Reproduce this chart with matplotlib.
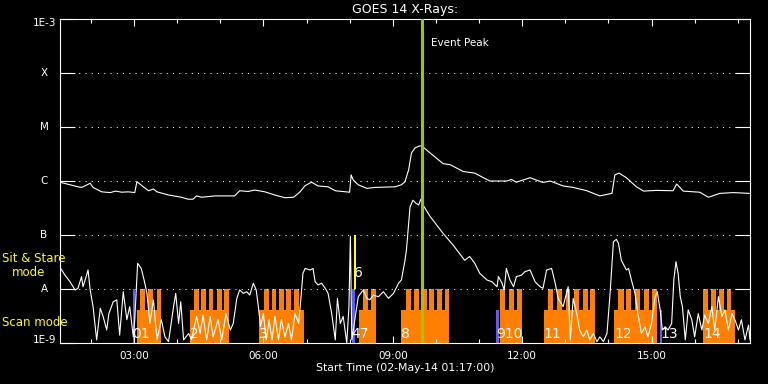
import matplotlib
matplotlib.use('Agg')
import matplotlib.pyplot as plt
import matplotlib.transforms as mtransforms

# time axis: minutes after 02-May-14 01:17:00
start_hour = 1 + 17 / 60
span_min = 960

# GOES 14 long channel (1-8 A), W/m^2
long_min = [0, 25, 30, 37, 42, 46, 58, 70, 77, 86, 95, 104, 107, 116, 123, 130, 135, 151, 169, 178,
            185, 190, 197, 216, 243, 250, 262, 271, 285, 299, 313, 325, 334, 341, 350, 359, 373, 383, 403, 405,
            408, 415, 427, 438, 466, 475, 480, 485, 489, 494, 499, 503, 515, 533, 543, 561, 577, 598, 622, 628,
            635, 654, 672, 682, 700, 714, 733, 751, 768, 772, 778, 788, 802, 812, 830, 853, 858, 867, 890, 902,
            918, 937, 959]
long_flux = [9.5e-7, 7.8e-7, 7.6e-7, 8.4e-7, 9.1e-7, 7.6e-7, 6.3e-7, 6.1e-7, 6.5e-7, 6.2e-7,
             6.3e-7, 6.1e-7, 9.7e-7, 7.8e-7, 6.6e-7, 7.1e-7, 6.3e-7, 5.5e-7, 5.0e-7, 4.6e-7,
             4.6e-7, 5.3e-7, 5.0e-7, 5.3e-7, 5.3e-7, 6.6e-7, 6.4e-7, 6.8e-7, 6.3e-7, 5.5e-7,
             4.9e-7, 5.0e-7, 6.3e-7, 8.2e-7, 9.5e-7, 8.1e-7, 7.8e-7, 6.6e-7, 6.2e-7, 1.3e-6,
             1.04e-6, 8.5e-7, 7.3e-7, 7.6e-7, 7.8e-7, 8.5e-7, 9.7e-7, 1.6e-6, 3.3e-6, 4.1e-6,
             4.4e-6, 4.5e-6, 3.3e-6, 2.1e-6, 2.0e-6, 1.5e-6, 1.4e-6, 1.0e-6, 1.0e-6, 1.07e-6,
             9.5e-7, 1.15e-6, 9.4e-7, 1.0e-6, 8.1e-7, 7.6e-7, 6.6e-7, 5.3e-7, 5.9e-7, 1.3e-6,
             1.4e-6, 1.15e-6, 7.8e-7, 6.5e-7, 6.7e-7, 6.6e-7, 8.8e-7, 6.5e-7, 6.2e-7, 5.0e-7,
             5.9e-7, 6.1e-7, 5.9e-7]

# GOES 14 short channel (0.5-4 A), W/m^2
short_min = [1, 7, 14, 21, 25, 30, 32, 37, 39, 42, 46, 51, 56, 60, 65, 68, 74, 79, 83, 88,
             93, 97, 102, 104, 108, 113, 117, 121, 125, 130, 135, 141, 146, 151, 158, 161, 165, 168, 172, 179,
             183, 190, 195, 199, 204, 209, 213, 220, 225, 231, 237, 241, 246, 250, 255, 260, 264, 269, 273, 276,
             279, 283, 287, 291, 295, 299, 304, 308, 313, 318, 322, 327, 332, 335, 338, 341, 348, 352, 355, 359,
             364, 369, 373, 378, 383, 386, 390, 394, 399, 402, 404, 406, 415, 422, 427, 431, 436, 443, 450, 457,
             464, 471, 475, 480, 482, 487, 491, 495, 499, 502, 505, 515, 533, 547, 563, 570, 577, 584, 594, 601,
             608, 610, 615, 618, 621, 626, 631, 635, 642, 647, 654, 661, 668, 672, 677, 684, 689, 693, 700, 704,
             707, 710, 714, 719, 723, 728, 733, 737, 742, 747, 751, 756, 761, 765, 770, 774, 777, 781, 788, 791,
             795, 800, 804, 809, 814, 818, 823, 828, 831, 835, 838, 842, 846, 851, 854, 857, 860, 863, 866, 870,
             874, 879, 883, 888, 893, 897, 902, 907, 911, 916, 921, 925, 930, 935, 939, 944, 948, 953, 958, 960]
short_flux = [2.4e-8, 1.8e-8, 1.36e-8, 9.6e-9, 1.03e-8, 1.7e-8, 1.1e-8, 1.8e-8, 2.25e-8, 9.6e-9,
              4.7e-9, 1.14e-9, 4.4e-9, 3.1e-9, 1.74e-9, 3.5e-9, 5.8e-9, 6.3e-9, 1.4e-9, 8.9e-9,
              2.7e-9, 4.7e-9, 1.3e-9, 2.7e-9, 3.0e-8, 2.4e-8, 1.47e-8, 8.3e-9, 2.3e-9, 6.3e-9,
              1.14e-9, 2.7e-9, 1.3e-9, 1.06e-9, 4.7e-9, 8.3e-9, 2.3e-9, 5.8e-9, 1.14e-9, 1.5e-9,
              1.14e-9, 3.1e-9, 1.5e-9, 3.3e-9, 1.14e-9, 3.1e-9, 1.3e-9, 2.7e-9, 1.14e-9, 3.5e-9,
              1.74e-9, 2.3e-9, 6.7e-9, 9.6e-9, 8.3e-9, 8.9e-9, 7.7e-9, 1.28e-8, 9.6e-9, 4.7e-9,
              2.0e-9, 3.5e-9, 1.14e-9, 2.7e-9, 1.14e-9, 3.1e-9, 1.14e-9, 2.7e-9, 1.3e-9, 2.3e-9,
              1.14e-9, 3.5e-9, 2.3e-9, 6.3e-9, 1.95e-8, 2.4e-8, 2.25e-8, 2.4e-8, 1.36e-8, 1.19e-8,
              1.28e-8, 1.03e-8, 8.3e-9, 3.5e-9, 1.14e-9, 6.7e-9, 2.3e-9, 3.1e-9, 1.0e-9, 4.7e-9,
              9.5e-8, 1.14e-9, 7.2e-9, 9.6e-9, 6.7e-9, 6.3e-9, 7.7e-9, 7.2e-9, 8.9e-9, 6.7e-9,
              8.3e-9, 1.28e-8, 1.47e-8, 3.4e-8, 5.3e-8, 3.3e-7, 4.4e-7, 3.9e-7, 3.6e-7, 4.6e-7,
              3.6e-7, 2.2e-7, 1.07e-7, 6.5e-8, 3.4e-8, 4.0e-8, 3.0e-8, 1.95e-8, 1.47e-8, 1.36e-8,
              1.1e-8, 1.7e-8, 1.28e-8, 9.6e-9, 2.4e-8, 1.47e-8, 1.1e-8, 1.7e-8, 1.8e-8, 2.1e-8,
              2.25e-8, 1.36e-8, 1.1e-8, 1.03e-8, 2.25e-8, 2.4e-8, 1.28e-8, 6.7e-9, 4.7e-9, 7.7e-9,
              1.1e-8, 1.14e-9, 6.7e-9, 3.5e-9, 1.74e-9, 1.3e-9, 1.74e-9, 1.14e-9, 1.5e-9, 1.06e-9,
              1.3e-9, 1.06e-9, 1.5e-9, 7.2e-9, 7.5e-8, 8.3e-8, 7.0e-8, 3.4e-8, 2.25e-8, 2.4e-8,
              1.47e-8, 8.3e-9, 3.5e-9, 1.5e-9, 2.0e-9, 1.3e-9, 2.3e-9, 7.2e-9, 8.9e-9, 4.1e-9,
              1.74e-9, 2.0e-9, 1.74e-9, 2.3e-9, 1.47e-8, 3.2e-8, 1.95e-8, 7.2e-9, 4.7e-9, 1.14e-9,
              4.1e-9, 2.7e-9, 1.3e-9, 3.5e-9, 1.74e-9, 3.3e-9, 2.3e-9, 4.7e-9, 1.74e-9, 7.2e-9,
              3.1e-9, 4.1e-9, 1.74e-9, 3.5e-9, 2.7e-9, 1.74e-9, 2.7e-9, 1.14e-9, 2.15e-9, 1.14e-9]

# scan mode rasters (minutes): block extent and raster steps
block_start = [107, 181, 277, 416, 475, 612, 673, 771, 895]
block_end = [141, 235, 339, 440, 541, 643, 744, 830, 939]
block_steps = [
    [(111, 118), (123, 129), (135, 141)],
    [(186, 193), (196, 203), (207, 213), (218, 225), (228, 235)],
    [(284, 291), (295, 301), (305, 311), (315, 322), (326, 333)],
    [(422, 428), (433, 440)],
    [(481, 488), (493, 499), (503, 510), (514, 520), (525, 531), (535, 541)],
    [(612, 619), (625, 632), (636, 643)],
    [(679, 686), (692, 698), (704, 710), (715, 722), (727, 734), (737, 744)],
    [(777, 784), (788, 795), (800, 807), (812, 819), (823, 830)],
    [(895, 902), (906, 913), (917, 924), (928, 934)],
]
block_labels = ['1', '2', '3', '7', '8', '10', '11', '12', '14']

# other observations
other_start = [101, 406, 607, 835]
other_end = [105, 411, 611, 838]
other_top = [1e-8, 1e-8, 4.1e-9, 4.1e-9]
other_labels = ['0', '4', '9', '13']

stare_start = [409]
stare_end = [412]
stare_labels = ['6']

event_peak = 503
base_level = 4.1e-9
step_level = 1e-8
stare_level = 1e-7

decades = [1e-9, 1e-8, 1e-7, 1e-6, 1e-5, 1e-4, 1e-3]
decade_labels = ['1E-9', 'A', 'B', 'C', 'M', 'X', '1E-3']
major_hours = [3, 6, 9, 12, 15]

orange = '#ff8000'
blue = '#5c5cff'

fig = plt.figure(figsize=(7.68, 3.84), dpi=100, facecolor='black')
ax = fig.add_axes([60 / 768, 41 / 384, 690 / 768, 324 / 384], facecolor='black')
ax.set_yscale('log')
ax.set_xlim(0, span_min)
ax.set_ylim(1e-9, 1e-3)

# scan blocks
for s, e, steps in zip(block_start, block_end, block_steps):
    ax.bar(s, base_level - 1e-9, width=e - s, bottom=1e-9, align='edge',
           color=orange, linewidth=0, zorder=1)
    for a, b in steps:
        ax.bar(a, step_level - 1e-9, width=b - a, bottom=1e-9, align='edge',
               color=orange, linewidth=0, zorder=1)

for s, e, top in zip(other_start, other_end, other_top):
    ax.bar(s, top - 1e-9, width=e - s, bottom=1e-9, align='edge',
           color=blue, linewidth=0, zorder=1.1)
for s, e in zip(stare_start, stare_end):
    ax.bar(s, stare_level - step_level, width=e - s, bottom=step_level, align='edge',
           color='yellow', linewidth=0, zorder=1.1)

# dotted class levels
for v in decades[1:-1]:
    ax.axhline(v, color='white', lw=0.75, ls=(0, (1, 5)), zorder=1.5)

ax.plot(long_min, long_flux, color='white', lw=0.8, zorder=3)
ax.plot(short_min, short_flux, color='white', lw=0.8, zorder=3)

ax.axvline(event_peak, color='#99cc00', lw=2.2, zorder=4)
ax.annotate('Event Peak', (event_peak, 3.6e-4), xytext=(7, 0), textcoords='offset points',
            color='white', fontsize=7.5, va='center', ha='left')

# observation numbers; numbers of neighbouring observations run together
trans = mtransforms.blended_transform_factory(ax.transData, ax.transAxes)
row = sorted(zip(other_start + block_start, other_labels + block_labels))
groups = []
for s, lab in row:
    if groups and s - groups[-1][1] < 12:
        groups[-1] = (groups[-1][0], s, groups[-1][2] + lab)
    else:
        groups.append((s, s, lab))
for s, _, lab in groups:
    ax.text(s, 0.016, lab, transform=trans, color='white', fontsize=10,
            ha='left', va='baseline', zorder=5)
for s, lab in zip(stare_start, stare_labels):
    ax.text(s, 0.205, lab, transform=trans, color='white', fontsize=10,
            ha='left', va='baseline', zorder=5)

# axes styling
for sp in ax.spines.values():
    sp.set_color('white')
    sp.set_linewidth(0.8)

hour_ticks = [h * 60 - start_hour * 60 for h in range(2, 18) if 0 <= h * 60 - start_hour * 60 <= span_min]
major_ticks = [h * 60 - start_hour * 60 for h in major_hours]
ax.set_xticks(major_ticks)
ax.set_xticklabels(['%02d:00' % h for h in major_hours])
ax.set_xticks(hour_ticks, minor=True)
ax.tick_params(axis='x', which='both', direction='in', top=True, bottom=True,
               colors='white', labelsize=7.5, pad=6, width=0.8)
ax.tick_params(axis='x', which='major', length=5)
ax.tick_params(axis='x', which='minor', length=3)

ax.set_yticks(decades)
ax.set_yticklabels([])
ax.yaxis.set_minor_locator(matplotlib.ticker.NullLocator())
ax.tick_params(axis='y', which='major', direction='in', left=True, right=True,
               length=10.8, width=0.8, colors='white')

for v, lab in zip(decades, decade_labels):
    if lab.startswith('1E'):
        dy = -3 if v == decades[-1] else 2
        ax.annotate(lab, (0, v), xycoords=('axes fraction', 'data'), xytext=(-3, dy),
                    textcoords='offset points', color='white', fontsize=7.5,
                    ha='right', va='center')
    else:
        ax.annotate(lab, (0, v), xycoords=('axes fraction', 'data'), xytext=(-11.5, 0),
                    textcoords='offset points', color='white', fontsize=7.5,
                    ha='center', va='center')

fig.text(405 / 768, 1 - 10 / 384, 'GOES 14 X-Rays:', color='white', fontsize=9,
         ha='center', va='center')
fig.text(405 / 768, 1 - 368 / 384, 'Start Time (02-May-14 01:17:00)', color='white',
         fontsize=7.8, ha='center', va='center')

fig.text(2 / 768, 1 - 259 / 384, 'Sit & Stare', color='yellow', fontsize=8.5, ha='left', va='center')
fig.text(12 / 768, 1 - 272 / 384, 'mode', color='yellow', fontsize=8.5, ha='left', va='center')
fig.text(2 / 768, 1 - 323 / 384, 'Scan mode', color='yellow', fontsize=8.5, ha='left', va='center')

fig.savefig('out.png', dpi=100, facecolor='black')
